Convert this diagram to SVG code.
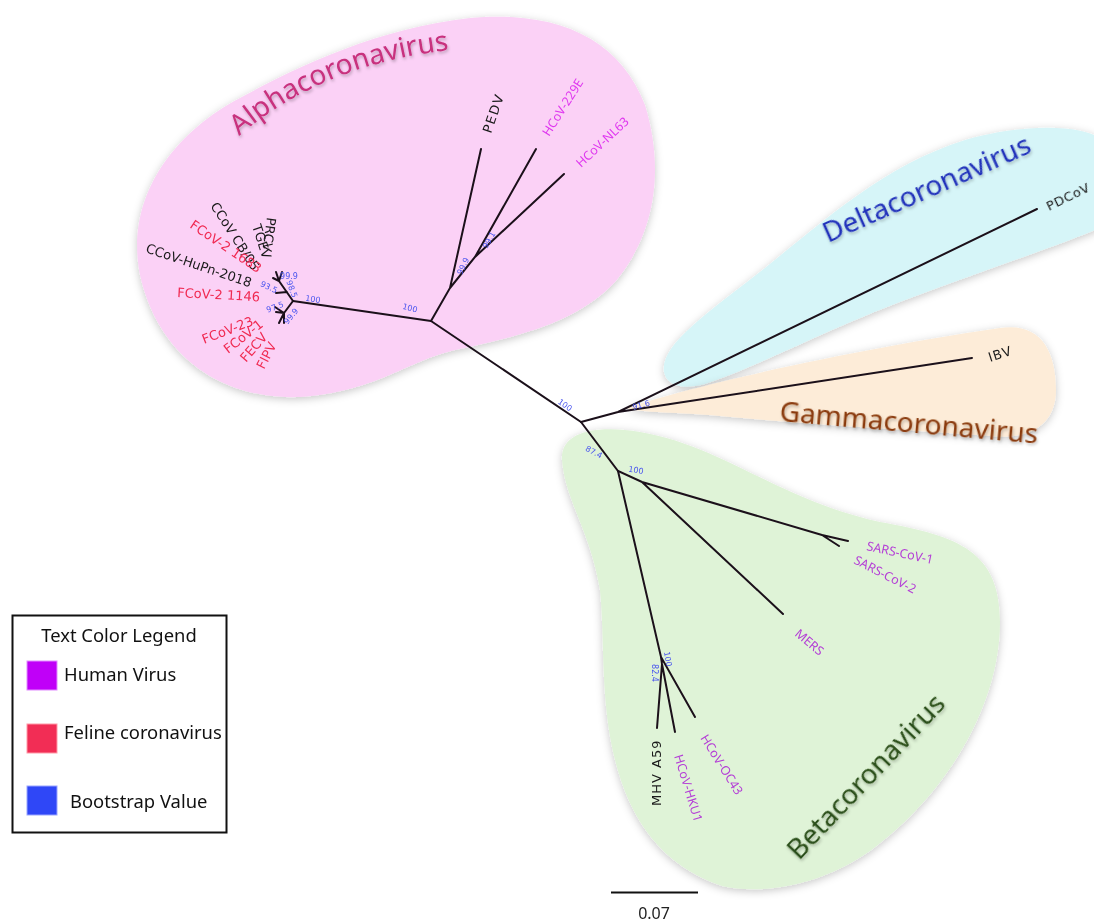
<svg xmlns="http://www.w3.org/2000/svg" width="1094" height="922" viewBox="0 0 1094 922">
<defs>
<filter id="sh" x="-10%" y="-10%" width="120%" height="120%">
<feDropShadow dx="0" dy="2" stdDeviation="4" flood-color="#000" flood-opacity="0.22"/>
</filter>
<filter id="tsh" x="-10%" y="-30%" width="120%" height="160%">
<feDropShadow dx="1" dy="2" stdDeviation="1.5" flood-color="#000" flood-opacity="0.25"/>
</filter>
<path id="alphaArc" d="M 239,136 Q 330,58 472,48"/>
</defs>
<style>
.br{stroke:#1b101a;stroke-width:2;fill:none;stroke-linecap:round}
.lbl{font-family:"DejaVu Sans",sans-serif;font-size:13px}
.lbn{font-family:"Noto Sans",sans-serif;font-size:12.5px}
.blk{fill:#1a1a1a}
.red{fill:#f02a52}
.hum{fill:#df38ef}
.humb{fill:#b43ed6}
.bs{font-family:"DejaVu Sans",sans-serif;font-size:8px;fill:#4a55ee;text-anchor:middle}
.clade{font-family:"Noto Sans",sans-serif;font-size:28px}
.leg{font-family:"Noto Sans",sans-serif;font-size:18.4px;fill:#111}
</style>
<rect width="1094" height="922" fill="#fff"/>
<g id="clade-blobs">
<path id="blob-alpha" filter="url(#sh)" fill="#fbd1f6" d="M 140,275 C 125,200 170,135 240,98 C 300,65 380,28 470,18 C 560,10 620,40 645,105 C 665,170 655,235 615,282 C 575,325 510,338 455,350 C 405,362 375,392 300,397 C 220,400 158,355 140,275 Z"/>
<path id="blob-delta" filter="url(#sh)" fill="#d6f5f8" d="M 664,372 C 660,345 705,315 765,268 C 825,220 885,165 965,140 C 1025,123 1080,125 1100,138 L 1100,228 C 1060,245 985,270 905,300 C 825,330 755,368 705,384 C 682,390 667,386 664,372 Z"/>
<path id="blob-gamma" filter="url(#sh)" fill="#fdecd8" d="M 626,408 C 700,384 850,350 1000,328 C 1040,322 1056,350 1056,390 C 1056,425 1030,440 990,436 C 900,429 800,424 720,416 C 680,412 640,413 626,408 Z"/>
<path id="blob-beta" filter="url(#sh)" fill="#dff3d7" d="M 562,460 C 560,430 600,425 640,432 C 720,445 780,500 880,522 C 960,536 1000,552 1000,622 C 1000,702 950,792 870,851 C 820,886 762,895 722,886 C 662,866 630,820 615,760 C 600,700 605,640 600,590 C 590,530 565,500 562,460 Z"/>
</g>
<g id="clade-labels" filter="url(#tsh)">
<text class="clade" fill="#c8307e" font-size="29.5"><textPath href="#alphaArc">Alphacoronavirus</textPath></text>
<text class="clade" fill="#2233bb" transform="translate(828,243) rotate(-24)">Deltacoronavirus</text>
<text class="clade" fill="#8a3a0c" font-size="27" transform="translate(779,421) rotate(5)">Gammacoronavirus</text>
<text class="clade" fill="#2c4f1a" font-size="30" transform="translate(799,861) rotate(-46.5)">Betacoronavirus</text>
</g>
<g id="connectors">
<path class="br" d="M581,422 L431,321"/>
<path class="br" d="M431,321 L293,301"/>
<path class="br" d="M293,301 L279,281 M279,281 L276,272 M279,281 L282,272 M279,281 L273,278 M287,292 L276,293"/>
<path class="br" d="M293,301 L284,313 M284,313 L275,307 M284,313 L279,323 M284,313 L284,323 M284,313 L276,312"/>
<path class="br" d="M431,321 L450,288 L481,149 M450,288 L475,257 L536,149 M475,257 L564,174"/>
<path class="br" d="M581,422 L618,412 L1037,209 M618,412 L972,358"/>
<path class="br" d="M581,422 L618,471 L642,482 L822,535 M822,535 L848,541 M822,535 L839,546 M642,482 L783,614"/>
<path class="br" d="M618,471 L661,657 L695,717 M661,657 L662,664 L675,732 M662,664 L657,728"/>
</g>
<g id="bootstrap">
<text class="bs" dy="0.35em" transform="translate(410,308) rotate(15)">100</text>
<text class="bs" dy="0.35em" transform="translate(565,405) rotate(35)">100</text>
<text class="bs" dy="0.35em" transform="translate(641,405) rotate(-15)">91.6</text>
<text class="bs" dy="0.35em" transform="translate(594,452) rotate(28)">87.4</text>
<text class="bs" dy="0.35em" transform="translate(636,470) rotate(10)">100</text>
<text class="bs" dy="0.35em" transform="translate(668,659) rotate(80)">100</text>
<text class="bs" dy="0.35em" transform="translate(655,673) rotate(90)">82.4</text>
<text class="bs" dy="0.35em" transform="translate(463,266) rotate(-65)">99.9</text>
<text class="bs" dy="0.35em" transform="translate(489,240) rotate(-60)">99.1</text>
<text class="bs" dy="0.35em" transform="translate(313,299) rotate(8)">100</text>
<text class="bs" dy="0.35em" transform="translate(289,276)">99.9</text>
<text class="bs" dy="0.35em" transform="translate(269,287) rotate(25)">93.5</text>
<text class="bs" dy="0.35em" transform="translate(292,289) rotate(70)">98.5</text>
<text class="bs" dy="0.35em" transform="translate(275,307) rotate(-20)">97.5</text>
<text class="bs" dy="0.35em" transform="translate(291,316) rotate(-50)">99.9</text>
</g>
<g id="leaf-labels">
<text class="lbl blk" transform="translate(267,217) rotate(98)">PRCV</text>
<text class="lbl blk" transform="translate(252,226) rotate(72)">TGEV</text>
<text class="lbl blk" transform="translate(210,206) rotate(57)">CCoV CB/05</text>
<text class="lbl red" transform="translate(189,227) rotate(34)">FCoV-2 1683</text>
<text class="lbl blk" transform="translate(145,252) rotate(18.6)">CCoV-HuPn-2018</text>
<text class="lbl red" transform="translate(177,297) rotate(3)">FCoV-2 1146</text>
<text class="lbl red" transform="translate(204,344) rotate(-21)">FCoV-23</text>
<text class="lbl red" transform="translate(228,354) rotate(-38)">FCoV-1</text>
<text class="lbl red" transform="translate(246,363) rotate(-49)">FECV</text>
<text class="lbl red" transform="translate(264,370) rotate(-63)">FIPV</text>
<text class="lbl blk" font-size="12" letter-spacing="1.5" transform="translate(491,134) rotate(-71)">PEDV</text>
<text class="lbn hum" font-size="13" transform="translate(549,137) rotate(-57.5)">HCoV-229E</text>
<text class="lbn hum" font-size="13" transform="translate(581,168) rotate(-43)">HCoV-NL63</text>
<text class="lbl blk" font-size="11.5" letter-spacing="0.6" transform="translate(1049,211) rotate(-26)">PDCoV</text>
<text class="lbl blk" font-size="12" letter-spacing="1" transform="translate(990,362) rotate(-18)">IBV</text>
<text class="lbn humb" transform="translate(866,550) rotate(12)">SARS-CoV-1</text>
<text class="lbn humb" transform="translate(853,563) rotate(27)">SARS-CoV-2</text>
<text class="lbn humb" transform="translate(794,635) rotate(40)">MERS</text>
<text class="lbn humb" transform="translate(700,738) rotate(58)">HCoV-OC43</text>
<text class="lbn humb" transform="translate(674,756) rotate(73)">HCoV-HKU1</text>
<text class="lbl blk" font-size="12" letter-spacing="1" transform="translate(661,806) rotate(-90)">MHV A59</text>
</g>
<g id="legend">
<rect x="12.5" y="615.5" width="214" height="217" fill="#fff" stroke="#111" stroke-width="2"/>
<text class="leg" x="119" y="642" text-anchor="middle">Text Color Legend</text>
<rect x="27" y="661" width="30" height="29" fill="#c000f8" stroke="#e28cff" stroke-width="1"/>
<text class="leg" x="64" y="681">Human Virus</text>
<rect x="27" y="724" width="30" height="29" fill="#f22d55" stroke="#ff9aa8" stroke-width="1"/>
<text class="leg" x="64" y="739">Feline coronavirus</text>
<rect x="27" y="786" width="30" height="29" fill="#2f47f7" stroke="#9aa5ff" stroke-width="1"/>
<text class="leg" x="70" y="808">Bootstrap Value</text>
</g>
<g id="scale">
<line x1="611" y1="892.5" x2="698" y2="892.5" stroke="#111" stroke-width="2"/>
<text x="654" y="919" text-anchor="middle" font-family="Noto Sans, sans-serif" font-size="16" fill="#222">0.07</text>
</g>
</svg>
